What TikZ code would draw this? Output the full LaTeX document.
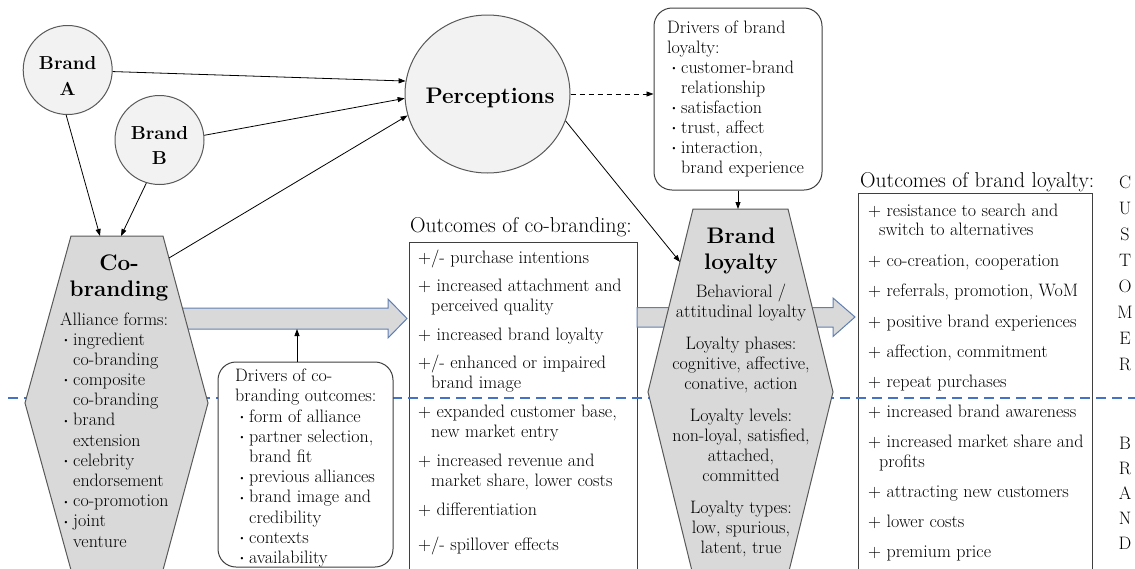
\documentclass[tikz,border=0pt]{standalone}
\usepackage{fontspec}
\usepackage{graphicx}
\usetikzlibrary{arrows.meta,shapes.geometric,calc}

\definecolor{hexfill}{HTML}{D9D9D9}
\definecolor{circfill}{HTML}{F2F2F2}
\definecolor{edgegray}{HTML}{595959}
\definecolor{boxedge}{HTML}{3F3F3F}
\definecolor{divblue}{HTML}{4472C4}
\definecolor{flowedge}{HTML}{5F7FB3}

% small bullet with fixed width so the item text starts at a fixed offset
\newcommand\mybul{\makebox[11pt][l]{\raisebox{0.2ex}{\scalebox{0.6}{\textbullet}}}}

\begin{document}
\begin{tikzpicture}[x=1pt,y=-1pt,
  conn/.style={line width=0.8pt,black,-{Triangle[length=7pt,width=5pt]}},
  outbox/.style={draw=boxedge,line width=1pt,fill=white,inner sep=0pt},
  rbox/.style={draw=boxedge,line width=1pt,fill=white,rounded corners=18pt,inner sep=0pt},
  bcirc/.style={circle,draw=edgegray,fill=circfill,line width=1pt,inner sep=0pt},
  hex/.style={draw=edgegray,fill=hexfill,line width=1pt},
  flow/.style={draw=flowedge,fill=hexfill,line width=1pt},
  divider/.style={draw=divblue,line width=2.4pt,dash pattern=on 10pt off 6pt},
  ln/.style={anchor=base west,inner sep=0pt,font=\fontsize{18}{20}\selectfont},
  lnc/.style={anchor=base,inner sep=0pt,font=\fontsize{18}{20}\selectfont},
  lnr/.style={anchor=base west,inner sep=0pt,font=\fontsize{18}{19}\selectfont},
  ttl/.style={anchor=base west,inner sep=0pt,font=\fontsize{21.5}{22}\selectfont},
  bigb/.style={anchor=base,inner sep=0pt,font=\fontsize{22.5}{26}\selectfont\bfseries},
  brandb/.style={anchor=base,inner sep=0pt,font=\fontsize{18.8}{24}\selectfont\bfseries},
  side/.style={anchor=base,inner sep=0pt,font=\fontsize{18}{20}\selectfont}]
\useasboundingbox (0,0) rectangle (1135,568);
\clip (0,0) rectangle (1135,568);

% outcome boxes (open towards the bottom edge)
\node[outbox,minimum width=228,minimum height=360] (ocb) at (523,422) {};
\node[outbox,minimum width=234,minimum height=410] (obl) at (975,398) {};

% wide flow arrows
\draw[flow] (180,308) -- (388,308) -- (388,299) -- (407,318.5) -- (388,338) -- (388,329) -- (180,329) -- cycle;
\coordinate (flowA) at (297,329);
\draw[flow] (637,307.5) -- (833,307.5) -- (833,298) -- (855,317) -- (833,336.5) -- (833,327) -- (637,327) -- cycle;

% customer / brand divider
\draw[divider] (8,398) -- (1135,398);

% co-branding hexagon
\draw[hex] (71,236) -- (163,236) -- (208,403) -- (163,570) -- (71,570) -- (25,403) -- cycle;
\coordinate (cbTopA) at (100,236);
\coordinate (cbTopB) at (121,236);
\coordinate (cbEdge) at (169,258);

% brand loyalty hexagon
\draw[hex] (693,209) -- (788,209) -- (833,392) -- (788,575) -- (693,575) -- (648,392) -- cycle;
\coordinate (blTop) at (740,209);
\coordinate (blEdge) at (680,262);

% driver boxes
\node[rbox,minimum width=175,minimum height=205] (dcb) at (305.5,464.5) {};
\node[rbox,minimum width=168,minimum height=182] (dbl) at (738,99) {};

% brands and perceptions
\node[bcirc,minimum size=89] (bA) at (67.7,70) {};
\node[bcirc,minimum size=89] (bB) at (159.5,140) {};
\node[bcirc,ellipse,minimum width=165,minimum height=158] (perc) at (487.5,94) {};

% connectors
\draw[conn] (bA.-2.5) -- (perc.171);
\draw[conn] (bB.6) -- (perc.183);
\draw[conn] (cbEdge) -- (perc.195);
\draw[conn] (bA.-92) -- (cbTopA);
\draw[conn] (bB.253) -- (cbTopB);
\draw[conn,dash pattern=on 5pt off 4pt] (perc.east) -- (dbl.west |- perc.east);
\draw[conn] (perc.-19) -- (blEdge);
\draw[conn] (dbl.south) -- (dbl.south |- blTop);
\draw[conn] (dcb.north -| flowA) -- (flowA);

% circle labels
\node[brandb] (tA1) at (67.7,69) {Brand};
\node[brandb] (tA2) at (67.7,95) {A};
\node[brandb] (tB1) at (159.5,139) {Brand};
\node[brandb] (tB2) at (159.5,164) {B};
\node[anchor=base,inner sep=0pt,font=\fontsize{22.5}{26}\selectfont\bfseries] (tP) at (490,103) {Perceptions};

% co-branding hexagon text
\node[bigb] (tCo1) at (119,270) {Co-};
\node[bigb] (tCo2) at (119,296) {branding};
\foreach \yy/\xx/\linetext [count=\k] in {
  325/60/{Alliance forms:},
  345/62/{\mybul ingredient},
  365.2/73/{co-branding},
  385.4/62/{\mybul composite},
  405.6/73/{co-branding},
  425.8/62/{\mybul brand},
  446/73/{extension},
  466.2/62/{\mybul celebrity},
  486.4/73/{endorsement},
  506.6/62/{\mybul co-promotion},
  526.8/62/{\mybul joint},
  547/73/{venture}}
  {\node[ln] (af\k) at (\xx,\yy) {\linetext};}

% drivers of co-branding outcomes
\foreach \yy/\xx/\linetext [count=\k] in {
  381.7/235/{Drivers of co-},
  401.9/235/{branding outcomes:},
  422/238/{\mybul form of alliance},
  442.2/238/{\mybul partner selection,},
  462.4/249/{brand fit},
  482.6/238/{\mybul previous alliances},
  502.8/238/{\mybul brand image and},
  523/249/{credibility},
  543.2/238/{\mybul contexts},
  563.4/238/{\mybul availability}}
  {\node[ln] (dc\k) at (\xx,\yy) {\linetext};}

% drivers of brand loyalty
\foreach \yy/\xx/\linetext [count=\k] in {
  33/667/{Drivers of brand},
  53/667/{loyalty:},
  73/670/{\mybul customer-brand},
  93/681/{relationship},
  113/670/{\mybul satisfaction},
  133/670/{\mybul trust, affect},
  153/670/{\mybul interaction,},
  173/681/{brand experience}}
  {\node[ln] (db\k) at (\xx,\yy) {\linetext};}

% outcomes of co-branding
\node[ttl] (tOcb) at (410,232) {Outcomes of co-branding:};
\foreach \yy/\xx/\linetext [count=\k] in {
  263.3/418/{+/- purchase intentions},
  291.7/418/{+ increased attachment and},
  311.7/431/{perceived quality},
  340/418/{+ increased brand loyalty},
  368.3/418/{+/- enhanced or impaired},
  388.3/431/{brand image},
  417.7/418/{+ expanded customer base,},
  437.7/431/{new market entry},
  466.7/418/{+ increased revenue and},
  486.7/431/{market share, lower costs},
  515/418/{+ differentiation},
  550/418/{+/- spillover effects}}
  {\node[ln] (oc\k) at (\xx,\yy) {\linetext};}

% brand loyalty hexagon text
\node[bigb] (tBl1) at (741,243) {Brand};
\node[bigb] (tBl2) at (741,269) {loyalty};
\foreach \yy/\linetext [count=\k] in {
  297/{Behavioral /},
  317/{attitudinal loyalty},
  349/{Loyalty phases:},
  369/{cognitive, affective,},
  389/{conative, action},
  421/{Loyalty levels:},
  441/{non-loyal, satisfied,},
  461/{attached,},
  481/{committed},
  513/{Loyalty types:},
  533/{low, spurious,},
  553/{latent, true}}
  {\node[lnc] (bl\k) at (741,\yy) {\linetext};}

% outcomes of brand loyalty
\node[ttl] (tObl) at (860,187) {Outcomes of brand loyalty:};
\foreach \yy/\xx/\linetext [count=\k] in {
  216/868/{+ resistance to search and},
  235/879/{switch to alternatives},
  266/868/{+ co-creation, cooperation},
  296/868/{+ referrals, promotion, WoM},
  327/868/{+ positive brand experiences},
  357/868/{+ affection, commitment},
  387/868/{+ repeat purchases},
  417/868/{+ increased brand awareness},
  447/868/{+ increased market share and},
  467/879/{profits},
  497/868/{+ attracting new customers},
  527/868/{+ lower costs},
  557/868/{+ premium price}}
  {\node[lnr] (ob\k) at (\xx,\yy) {\linetext};}

% side labels
\foreach \ch [count=\k] in {C,U,S,T,O,M,E,R}
  {\node[side] (cu\k) at (1125,{188+26*(\k-1)}) {\ch};}
\foreach \ch [count=\k] in {B,R,A,N,D}
  {\node[side] (br\k) at (1125,{449+25*(\k-1)}) {\ch};}
\end{tikzpicture}
\end{document}
